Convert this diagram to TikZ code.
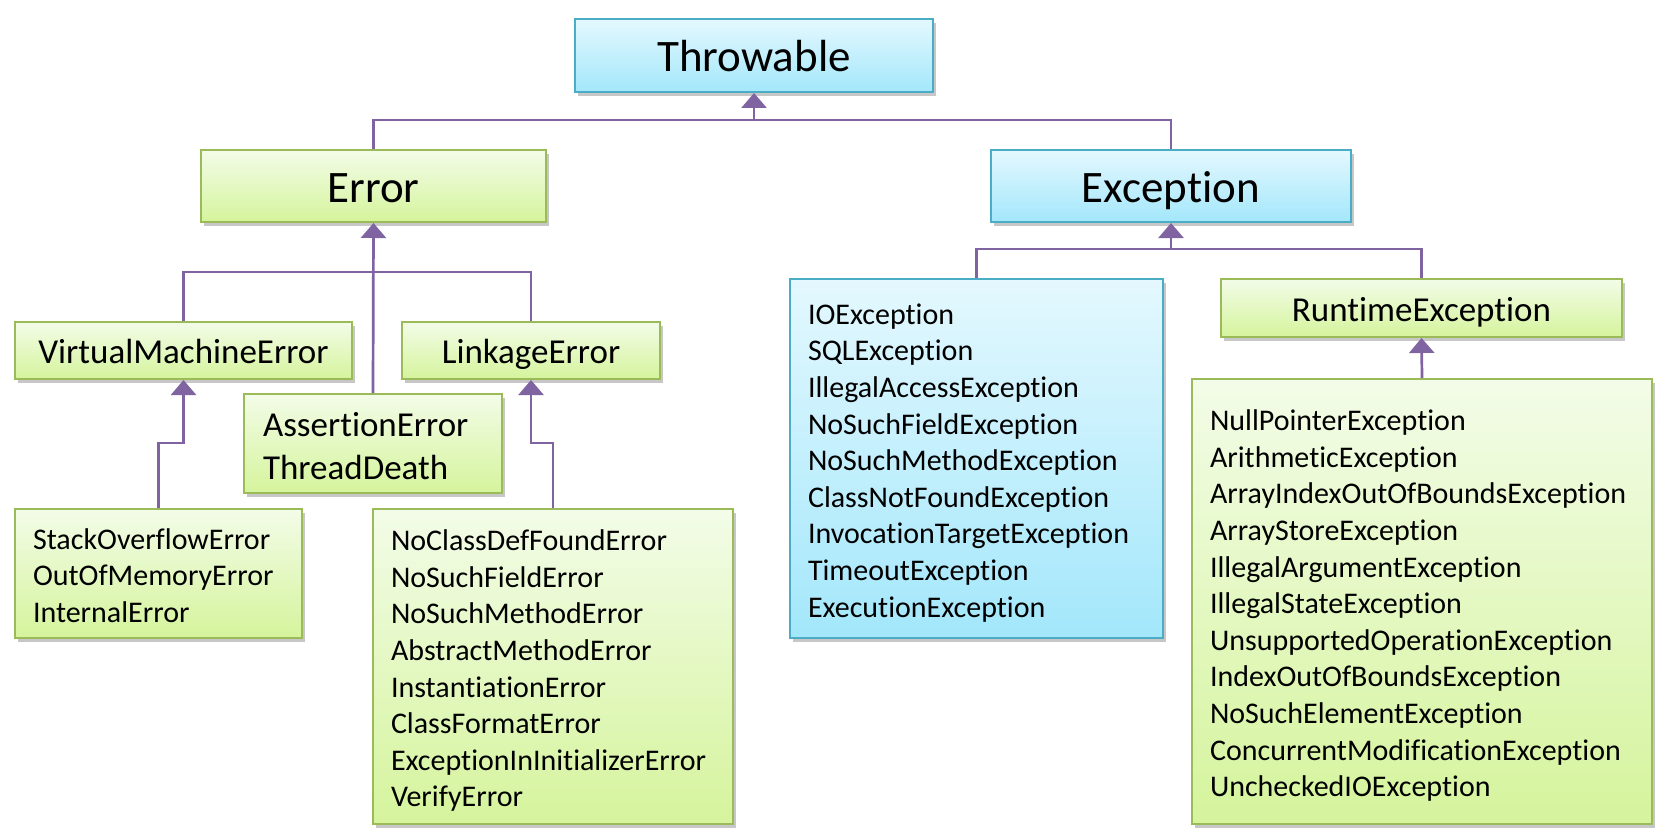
\documentclass[tikz,border=0pt]{standalone}
\usepackage{fontspec}
\setmainfont{Carlito}[Ligatures={NoCommon,NoContextual}]
\usetikzlibrary{arrows.meta,shadows}
\definecolor{gborder}{HTML}{9BBB59}
\definecolor{gtop}{HTML}{F3FCE8}
\definecolor{gbot}{HTML}{D5F49C}
\definecolor{bborder}{HTML}{4BACC6}
\definecolor{btop}{HTML}{E4F8FE}
\definecolor{bbot}{HTML}{A3E7FB}
\definecolor{conn}{HTML}{8064A2}
\tikzset{
  basebox/.style={rectangle, line width=2pt, inner sep=0pt,
    drop shadow={shadow xshift=3pt, shadow yshift=-4pt, opacity=0.22, fill=black}},
  greenbox/.style={basebox, draw=gborder, top color=gtop, bottom color=gbot},
  bluebox/.style={basebox, draw=bborder, top color=btop, bottom color=bbot},
  bigtxt/.style={font=\fontsize{45}{54}\selectfont, text height=38pt, text depth=5.6pt},
  midtxt/.style={font=\fontsize{35}{42.7}\selectfont, text height=30pt, text depth=3.8pt},
  listtxt/.style={font=\fontsize{30}{36.6}\selectfont, align=left, inner xsep=18pt, text height=24.4pt},
  link/.style={draw=conn, line width=2.7pt},
  arr/.style={link, -{Triangle[width=25pt,length=15pt]}},
}
\begin{document}
\begin{tikzpicture}[x=1pt,y=-1pt]
\useasboundingbox[fill=white] (0,0) rectangle (1678,840);
% top level
\node[bluebox, bigtxt, minimum width=358pt, minimum height=73pt] (thr) at (754,55.5) {Throwable};
\node[greenbox, bigtxt, minimum width=345pt, minimum height=72pt] (err) at (373.5,186) {Error};
\node[bluebox, bigtxt, minimum width=360pt, minimum height=72pt] (exc) at (1171,186) {Exception};
% error branch
\node[greenbox, midtxt, minimum width=337pt, minimum height=57pt] (vme) at (183.5,350.5) {VirtualMachineError};
\node[greenbox, midtxt, minimum width=258pt, minimum height=57pt] (lnk) at (531,350.5) {LinkageError};
\node[greenbox, font=\fontsize{35}{42.7}\selectfont, align=left, inner xsep=19pt, text width=220pt, text height=30pt, text depth=43.1pt, minimum height=99pt] (ast) at (373,443.5) {AssertionError\\ThreadDeath};
\node[greenbox, listtxt, text width=251pt, text depth=73.2pt, minimum height=129pt] (sov) at (158.5,573.5) {StackOverflowError\\OutOfMemoryError\\InternalError};
\node[greenbox, listtxt, text width=324pt, text depth=256.2pt, minimum height=315pt] (ncd) at (553,666.5) {NoClassDefFoundError\\NoSuchFieldError\\NoSuchMethodError\\AbstractMethodError\\InstantiationError\\ClassFormatError\\ExceptionInInitializerError\\VerifyError};
% exception branch
\node[bluebox, listtxt, text width=337pt, text depth=292.8pt, minimum height=359pt] (ioe) at (976.5,458.5) {IOException\\SQLException\\IllegalAccessException\\NoSuchFieldException\\NoSuchMethodException\\ClassNotFoundException\\InvocationTargetException\\TimeoutException\\ExecutionException};
\node[greenbox, midtxt, minimum width=401pt, minimum height=58pt] (rte) at (1421.5,308) {RuntimeException};
\node[greenbox, listtxt, text width=424pt, text depth=366pt, minimum height=445pt] (npe) at (1422,601.5) {NullPointerException\\ArithmeticException\\ArrayIndexOutOfBoundsException\\ArrayStoreException\\IllegalArgumentException\\IllegalStateException\\UnsupportedOperationException\\IndexOutOfBoundsException\\NoSuchElementException\\ConcurrentModificationException\\UncheckedIOException};
% junctions
\coordinate (jT) at (754,120);
\coordinate (jE) at (373.5,272);
\coordinate (jX) at (1171,249);
% connectors
\draw[link] (err.north) |- (jT) -| (exc.north);
\draw[arr] (jT) -- (thr.south);
\draw[link] (vme.north) |- (jE) -| (lnk.north);
\draw[arr] (ast.north) -- (err.south);
\draw[arr] (sov.north) -- ++(0,-65) -| (vme.south);
\draw[arr] (ncd.north) -- ++(0,-65) -| (lnk.south);
\draw[link] (ioe.north) |- (jX) -| (rte.north);
\draw[arr] (jX) -- (exc.south);
\draw[arr] (npe.north) -- (rte.south);
\end{tikzpicture}
\end{document}
